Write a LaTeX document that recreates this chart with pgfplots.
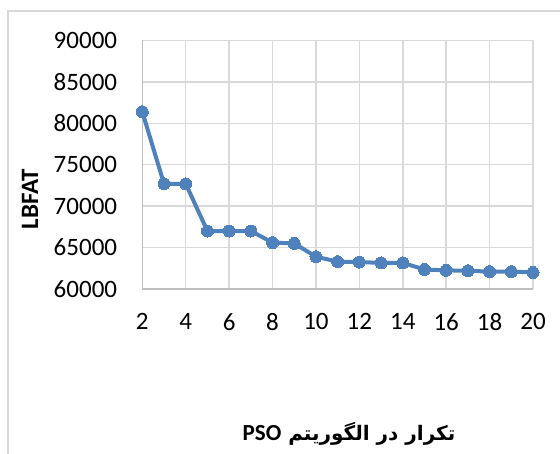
\documentclass[border=0pt]{standalone}
\usepackage{fontspec}
\setmainfont{Carlito}
\newfontfamily\arabicfont[Script=Arabic]{DejaVu Sans}
\newfontfamily\psofont{Carlito}
\TeXXeTstate=1
\usepackage{pgfplots}
\pgfplotsset{compat=1.18}
\definecolor{lineblue}{HTML}{4F81BD}
\definecolor{gridgray}{HTML}{D9D9D9}
\definecolor{axisgray}{HTML}{BFBFBF}
\begin{document}
\begin{tikzpicture}[x=1pt,y=1pt]
\path[use as bounding box] (0,0) rectangle (560,454);
\draw[color=gridgray, line width=1.5pt] (8,0) -- (8,443) -- (560,443);
\begin{axis}[
  at={(142.3pt,165pt)}, anchor=south west,
  scale only axis, width=390.7pt, height=248.5pt,
  xmin=2, xmax=20, ymin=60000, ymax=90000,
  xtick={2,4,...,20},
  xticklabels={2,4,6,8,10,12,14,16,18,20},
  ytick={60000,65000,...,90000},
  yticklabels={60000,65000,70000,75000,80000,85000,90000},
  scaled y ticks=false,
  axis x line*=bottom, axis y line*=left,
  axis line style={-, draw=axisgray, line width=1.6pt},
  grid=major,
  grid style={draw=gridgray, line width=1.5pt},
  major tick length=0pt,
  tick style={draw=none},
  ticklabel style={font=\fontsize{25}{30}\selectfont, text=black},
  yticklabel style={inner sep=0pt, anchor=east, xshift=-25pt},
  xticklabel style={inner sep=0pt, anchor=north, yshift=-24pt},
  clip=false,
]
\addplot[color=lineblue, line width=4pt, mark=*, mark size=6pt, mark options={fill=lineblue, draw=lineblue, line width=0pt}]
coordinates {
(2,81400) (3,72700) (4,72700) (5,67000) (6,67000) (7,67000)
(8,65600) (9,65500) (10,63900) (11,63300) (12,63250) (13,63150)
(14,63150) (15,62350) (16,62250) (17,62200) (18,62100) (19,62100) (20,62000)
};
\end{axis}
\node[rotate=90, font=\fontsize{25}{30}\selectfont\bfseries] at (30,255) {LBFAT};
\node[font=\fontsize{20}{24}\selectfont\bfseries] at (349,20) {\arabicfont\beginR تکرار در الگوریتم \beginL{\psofont\bfseries\fontsize{23}{24}\selectfont PSO}\endL\endR};
\end{tikzpicture}
\end{document}
